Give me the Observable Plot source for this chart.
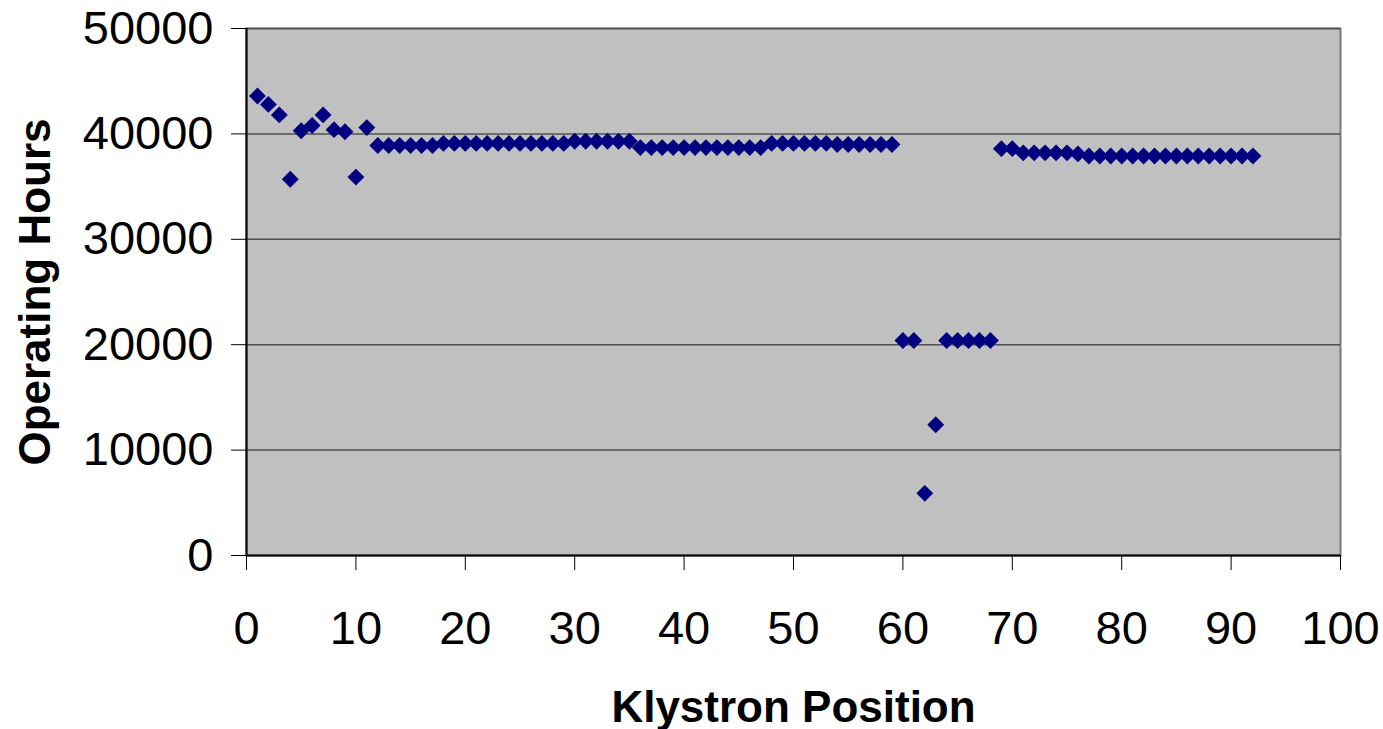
<!DOCTYPE html>
<html>
<head>
<meta charset="utf-8">
<script src="https://cdn.jsdelivr.net/npm/d3@7"></script>
<script src="https://cdn.jsdelivr.net/npm/@observablehq/plot@0.6"></script>
<style>
  html, body { margin: 0; padding: 0; background: #fff; }
  g[aria-label="x-axis label"], g[aria-label="y-axis label"] { font-size: 44px; font-weight: bold; }
</style>
</head>
<body>
<div id="chart"></div>
<script>
const positions = [1,2,3,4,5,6,7,8,9,10,11,12,13,14,15,16,17,18,19,20,21,22,23,24,25,26,27,28,29,30,31,32,33,34,35,36,37,38,39,40,41,42,43,44,45,46,47,48,49,50,51,52,53,54,55,56,57,58,59,60,61,62,63,64,65,66,67,68,69,70,71,72,73,74,75,76,77,78,79,80,81,82,83,84,85,86,87,88,89,90,91,92];
const hours = [
  43600, 42800, 41800, 35700, 40300, 40800, 41800, 40400, 40200, 35900, 40600,
  38900, 38900, 38900, 38900, 38900, 38900,
  39100, 39100, 39100, 39100, 39100, 39100, 39100, 39100, 39100, 39100, 39100, 39100,
  39300, 39300, 39300, 39300, 39300, 39300,
  38700, 38700, 38700, 38700, 38700, 38700, 38700, 38700, 38700, 38700, 38700, 38700,
  39100, 39100, 39100, 39100, 39100, 39100,
  39000, 39000, 39000, 39000, 39000, 39000,
  20400, 20400, 5900, 12400, 20400, 20400, 20400, 20400, 20400,
  38600, 38600,
  38200, 38200, 38200, 38200, 38200, 38100,
  37900, 37900, 37900, 37900, 37900, 37900, 37900, 37900, 37900, 37900, 37900, 37900, 37900, 37900, 37900, 37900
];
const xTicks = [0, 10, 20, 30, 40, 50, 60, 70, 80, 90, 100];
const yTicks = [0, 10000, 20000, 30000, 40000, 50000];
const gridLines = [10000, 20000, 30000, 40000, 50000];

const data = positions.map((p, i) => ({position: p, hours: hours[i]}));

const chart = Plot.plot({
  width: 1383,
  height: 729,
  marginLeft: 246,
  marginRight: 43,
  marginTop: 28,
  marginBottom: 174,
  style: {fontFamily: "'Liberation Sans', Arial, sans-serif", fontSize: "47px", color: "#000", background: "#fff", overflow: "visible"},
  x: {domain: [0, 100]},
  y: {domain: [0, 50000]},
  marks: [
    Plot.frame({fill: "#c0c0c0", stroke: "#7a7a7a", strokeWidth: 2}),
    Plot.ruleY(gridLines, {stroke: "#505050", strokeWidth: 1.5}),
    Plot.ruleX([0], {stroke: "#000", strokeWidth: 2}),
    Plot.ruleY([0], {stroke: "#000", strokeWidth: 2}),
    Plot.axisX(xTicks, {tickSize: 15, tickPadding: 40, label: "Klystron Position", labelArrow: "none", labelAnchor: "center", labelOffset: 166, fontSize: 47, tickFormat: d => String(d)}),
    Plot.axisY(yTicks, {tickSize: 15, tickPadding: 18, label: "Operating Hours", labelArrow: "none", labelAnchor: "center", labelOffset: 228, fontSize: 47, tickFormat: d => String(d)}),
    Plot.dot(data, {x: "position", y: "hours", symbol: "diamond2", r: 7.6, fill: "#000080", stroke: "none"})
  ]
});
document.getElementById("chart").appendChild(chart);
</script>
</body>
</html>
